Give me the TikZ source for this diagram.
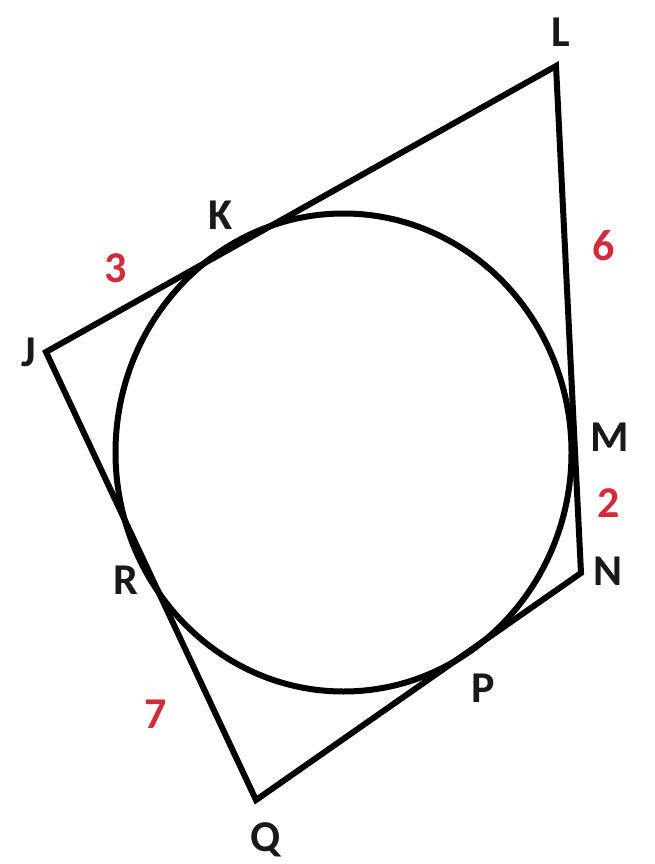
\documentclass[tikz,border=0pt]{standalone}
\usepackage{fontspec}
\setmainfont{Carlito}
\usetikzlibrary{positioning}
\definecolor{segred}{RGB}{208,45,58}

\begin{document}
\begin{tikzpicture}[x=1pt, y=-1pt]
\tikzstyle{vlabel} = [font=\fontsize{44}{48}\selectfont\bfseries, text=black!90, inner sep=0pt]
\tikzstyle{seglabel} = [font=\fontsize{44}{48}\selectfont\bfseries, text=segred, inner sep=0pt]
\tikzstyle{edge} = [line width=6pt, line join=miter]

\useasboundingbox (0,0) rectangle (654,864);

% vertices of the quadrilateral
\coordinate (vJ) at (46,352);
\coordinate (vL) at (556,66);
\coordinate (vN) at (581,573);
\coordinate (vQ) at (256,800);

\draw [edge] (vJ) -- (vL) -- (vN) -- (vQ) -- cycle;
\draw [edge] (343.5,452.5) ellipse [x radius=228, y radius=239];

% point labels
\node (L) [vlabel] at (561,32) {L};
\node (K) [vlabel] at (221,215) {K};
\node (J) [vlabel] at (29,352) {J};
\node (M) [vlabel] at (610,437) {M};
\node (N) [vlabel] at (608,571) {N};
\node (R) [vlabel] at (126,580) {R};
\node (P) [vlabel] at (483,688) {P};
\node (Q) [vlabel] at (266,840) {Q};

% lengths
\node (s3) [seglabel] at (116,268) {3};
\node (s6) [seglabel] at (604,246) {6};
\node (s2) [seglabel] at (609,503) {2};
\node (s7) [seglabel] at (156,714) {7};

\end{tikzpicture}
\end{document}
